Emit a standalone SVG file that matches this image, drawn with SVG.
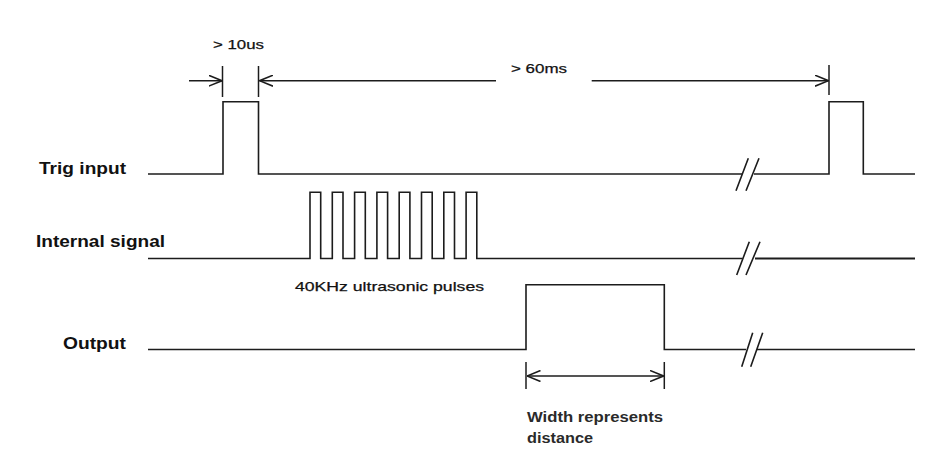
<svg xmlns="http://www.w3.org/2000/svg" width="949" height="472" viewBox="0 0 949 472">
<style>
.sig{fill:none;stroke:#1c1c1c;stroke-width:1.6}
.tick{stroke:#1c1c1c;stroke-width:1.5}
.dim{fill:none;stroke:#1c1c1c;stroke-width:1.6}
.lbl{font-family:"Liberation Sans",Arial,sans-serif;font-weight:bold;font-size:17px;fill:#111}
.note{font-family:"Liberation Sans",Arial,sans-serif;font-size:13px;fill:#111;stroke:#111;stroke-width:0.25}
.note2{font-family:"Liberation Sans",Arial,sans-serif;font-size:14px;font-weight:bold;fill:#2a2a2a}
</style>
<defs>
<marker id="ah" viewBox="0 0 14 12" markerWidth="14" markerHeight="12" refX="13.5" refY="6" orient="auto-start-reverse" markerUnits="userSpaceOnUse">
<path d="M0,0.5 L13.5,6 L0,11.5" fill="none" stroke="#1c1c1c" stroke-width="1.6"/>
</marker>
</defs>
<rect width="949" height="472" fill="#fff"/>
<g id="trig">
<text class="lbl" x="39" y="174" textLength="87" lengthAdjust="spacingAndGlyphs">Trig input</text>
<path class="sig" d="M148,174 H223 V101.7 H258.5 V174 H742"/>
<path class="sig" d="M754,174 H829 V101.7 H863.3 V174 H915"/>
<path class="sig" d="M736,190.7 L748.3,158.3 M746,190.7 L759,158.3"/>
</g>
<g id="internal">
<text class="lbl" x="36" y="247" textLength="129" lengthAdjust="spacingAndGlyphs">Internal signal</text>
<path class="sig" d="M148,258.5 H310 V192.3 H320.7 V258.5 H332.3 V192.3 H343 V258.5 H354.6 V192.3 H365.3 V258.5 H376.9 V192.3 H387.6 V258.5 H399.2 V192.3 H409.9 V258.5 H421.5 V192.3 H432.2 V258.5 H443.8 V192.3 H454.5 V258.5 H466.1 V192.3 H476.8 V258.5 H742.5"/>
<path class="sig" d="M755,258.5 H915" style="stroke-width:2"/>
<path class="sig" d="M736.7,275 L749.3,241.7 M746,275 L760,241.7"/>
<text class="note" x="295" y="291" textLength="189" lengthAdjust="spacingAndGlyphs">40KHz ultrasonic pulses</text>
</g>
<g id="output">
<text class="lbl" x="63" y="348.5" textLength="63" lengthAdjust="spacingAndGlyphs">Output</text>
<path class="sig" d="M148,349.5 H526 V284.7 H664.3 V349.5 H746"/>
<path class="sig" d="M757,349.5 H915"/>
<path class="sig" d="M741.7,366.7 L752.7,332.7 M750.7,366.7 L762.7,332.7"/>
<text class="note2" x="527" y="421.7" textLength="136" lengthAdjust="spacingAndGlyphs">Width represents</text>
<text class="note2" x="527" y="442.7" textLength="66" lengthAdjust="spacingAndGlyphs">distance</text>
</g>
<g id="connectors">
<line class="tick" x1="222.5" y1="66" x2="222.5" y2="97"/>
<line class="tick" x1="258.5" y1="66" x2="258.5" y2="97"/>
<line class="tick" x1="829" y1="65" x2="829" y2="95"/>
<line class="tick" x1="526" y1="362" x2="526" y2="389"/>
<line class="tick" x1="664.3" y1="362" x2="664.3" y2="389"/>
<path class="dim" d="M189,80.7 H222" marker-end="url(#ah)"/>
<path class="dim" d="M259.5,80.7 H496" marker-start="url(#ah)"/>
<path class="dim" d="M591.7,80.7 H828.5" marker-end="url(#ah)"/>
<path class="dim" d="M527,376 H663.5" marker-start="url(#ah)" marker-end="url(#ah)"/>
<text class="note" x="213" y="49" textLength="51" lengthAdjust="spacingAndGlyphs">&gt; 10us</text>
<text class="note" x="511" y="73" textLength="56" lengthAdjust="spacingAndGlyphs">&gt; 60ms</text>
</g>
</svg>
